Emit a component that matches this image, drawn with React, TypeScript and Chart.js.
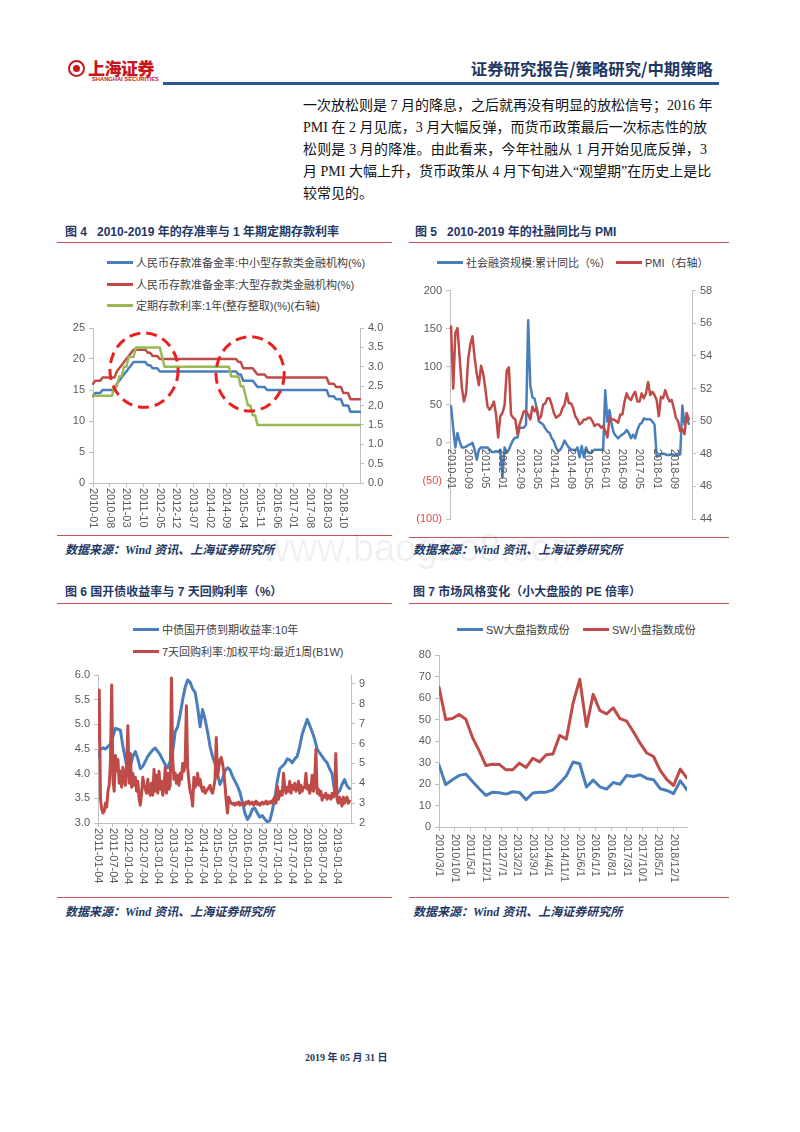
import React, { useEffect, useRef } from 'react';
import { Chart, registerables } from 'chart.js';

Chart.register(...registerables);
Chart.defaults.font.family = '"Liberation Sans", Arial, sans-serif';
Chart.defaults.font.size = 11;
Chart.defaults.color = '#595959';

const BLUE = '#4A7EBB';
const RED = '#BE4B48';
const GREEN = '#98B954';
const AXIS = '#BFBFBF';
const TICK = '#595959';
const NEG_RED = '#E0474C';
const NAVY = '#1F3864';
const CJK = '"Noto Sans CJK SC", sans-serif';
const LATIN_CJK = '"Liberation Sans", "Noto Sans CJK SC", sans-serif';
const SERIF_CJK = '"Liberation Serif", "Noto Sans CJK SC", serif';

function monthRange(start: string, end: string): string[] {
  const [sy, sm] = start.split('-').map(Number);
  const [ey, em] = end.split('-').map(Number);
  const out: string[] = [];
  let y = sy, m = sm;
  while (y < ey || (y === ey && m <= em)) {
    out.push(`${y}-${String(m).padStart(2, '0')}`);
    m++; if (m > 12) { m = 1; y++; }
  }
  return out;
}

// ---------------- Figure 4 ----------------
const fig4Months = monthRange('2010-01', '2019-05');
const fig4TickLabels = ['2010-01', '2010-08', '2011-03', '2011-10', '2012-05', '2012-12', '2013-07', '2014-02', '2014-09', '2015-04', '2015-11', '2016-06', '2017-01', '2017-08', '2018-03', '2018-10'];
const fig4RrrSmall = [
  14, 14.5, 14.5, 14.5, 15, 15, 15, 15, 15, 15, 16, 16.5,
  17, 17.5, 18, 18.5, 19, 19.5, 19.5, 19.5, 19.5, 19.5, 19.5, 19,
  19, 18.5, 18.5, 18.5, 18, 18, 18, 18, 18, 18, 18, 18,
  18, 18, 18, 18, 18, 18, 18, 18, 18, 18, 18, 18,
  18, 18, 18, 18, 18, 18, 18, 18, 18, 18, 18, 18,
  18, 17.5, 17.5, 16.5, 16.5, 16.5, 16.5, 16.5, 16, 15.5, 15.5, 15.5,
  15.5, 15, 15, 15, 15, 15, 15, 15, 15, 15, 15, 15,
  15, 15, 15, 15, 15, 15, 15, 15, 15, 15, 15, 15,
  15, 15, 15, 14, 14, 14, 13.5, 13.5, 13.5, 12.5, 12.5, 12.5,
  11.5, 11.5, 11.5, 11.5, 11.5,
];
const fig4RrrLarge = [
  16, 16.5, 16.5, 16.5, 17, 17, 17, 17, 17, 17, 18, 18.5,
  19, 19.5, 20, 20.5, 21, 21.5, 21.5, 21.5, 21.5, 21.5, 21.5, 21,
  21, 20.5, 20.5, 20.5, 20, 20, 20, 20, 20, 20, 20, 20,
  20, 20, 20, 20, 20, 20, 20, 20, 20, 20, 20, 20,
  20, 20, 20, 20, 20, 20, 20, 20, 20, 20, 20, 20,
  20, 19.5, 19.5, 18.5, 18.5, 18.5, 18.5, 18.5, 18, 17.5, 17.5, 17.5,
  17.5, 17, 17, 17, 17, 17, 17, 17, 17, 17, 17, 17,
  17, 17, 17, 17, 17, 17, 17, 17, 17, 17, 17, 17,
  17, 17, 17, 16, 16, 16, 15.5, 15.5, 15.5, 14.5, 14.5, 14.5,
  13.5, 13.5, 13.5, 13.5, 13.5,
];
const fig4Deposit = [
  2.25, 2.25, 2.25, 2.25, 2.25, 2.25, 2.25, 2.25, 2.25, 2.5, 2.5, 2.75,
  2.75, 3, 3, 3.25, 3.25, 3.25, 3.5, 3.5, 3.5, 3.5, 3.5, 3.5,
  3.5, 3.5, 3.5, 3.5, 3.5, 3.25, 3, 3, 3, 3, 3, 3,
  3, 3, 3, 3, 3, 3, 3, 3, 3, 3, 3, 3,
  3, 3, 3, 3, 3, 3, 3, 3, 3, 3, 2.75, 2.75,
  2.75, 2.75, 2.5, 2.5, 2.25, 2, 2, 1.75, 1.75, 1.5, 1.5, 1.5,
  1.5, 1.5, 1.5, 1.5, 1.5, 1.5, 1.5, 1.5, 1.5, 1.5, 1.5, 1.5,
  1.5, 1.5, 1.5, 1.5, 1.5, 1.5, 1.5, 1.5, 1.5, 1.5, 1.5, 1.5,
  1.5, 1.5, 1.5, 1.5, 1.5, 1.5, 1.5, 1.5, 1.5, 1.5, 1.5, 1.5,
  1.5, 1.5, 1.5, 1.5, 1.5,
];
// dashed highlight ellipses (category index, left-axis value, radii in data units)
const fig4Highlights = [
  { index: 21.4, value: 18.2, rIndex: 14.3, rValue: 6.0 },
  { index: 65.9, value: 17.6, rIndex: 14.3, rValue: 6.0 },
];

// ---------------- Figure 5 ----------------
const fig5Months = monthRange('2010-01', '2019-05');
const fig5TickLabels = ['2010-01', '2010-09', '2011-05', '2012-01', '2012-09', '2013-05', '2014-01', '2014-09', '2015-05', '2016-01', '2016-09', '2017-05', '2018-01', '2018-09'];
const fig5Tsf = [
  48, 19, -6, 13, 2, -6, -6, -5, -3, -2, 0, -9,
  -22, -9, -6, -6, -6, -6, -9, -12, -12, -11, -12, -9,
  -45, -6, -13, -9, -2, 4, 7, 7, 20, 20, 20, 24,
  161, 75, 60, 58, 45, 28, 26, 24, 19, 15, 13, 6,
  2, -6, -11, -9, -4, 3, -2, -6, -9, -9, -10, -6,
  -19, -4, -19, -6, -13, -13, -11, -9, -9, -9, -9, -9,
  69, 28, 43, 24, 13, 9, 6, 9, 11, 13, 17, 13,
  6, 11, 6, 17, 24, 26, 32, 31, 31, 31, 28, 24,
  -18, -17, -15, -14, -15, -16, -16, -15, -16, -16, -16, -15,
  49, 24, 34, 25,
];
const fig5Pmi = [
  55.8, 52.0, 55.4, 55.7, 53.9, 52.1, 51.2, 51.7, 53.8, 54.7, 55.2, 53.9,
  52.9, 52.2, 53.4, 52.9, 52.0, 50.9, 50.7, 50.9, 51.2, 50.4, 49.0, 50.3,
  50.5, 51.0, 53.1, 53.3, 50.4, 50.2, 50.1, 49.2, 49.8, 50.2, 50.6, 50.6,
  50.4, 50.1, 50.9, 50.6, 50.8, 50.1, 50.3, 51.0, 51.1, 51.4, 51.4, 51.0,
  50.5, 50.2, 50.3, 50.4, 50.8, 51.0, 51.7, 51.1, 51.1, 50.8, 50.3, 50.1,
  49.8, 49.9, 50.1, 50.1, 50.2, 50.2, 50.0, 49.7, 49.8, 49.8, 49.6, 49.7,
  49.4, 49.0, 50.2, 50.1, 50.1, 50.0, 49.9, 50.4, 50.4, 51.2, 51.7, 51.4,
  51.3, 51.6, 51.8, 51.2, 51.2, 51.7, 51.4, 51.7, 52.4, 51.6, 51.8, 51.6,
  51.3, 50.3, 51.5, 51.4, 51.9, 51.5, 51.2, 51.3, 50.8, 50.2, 50.0, 49.4,
  49.5, 49.2, 50.5, 50.1,
];

// ---------------- Figure 6 ----------------
const fig6TickLabels = ['2011-01-04', '2011-07-04', '2012-01-04', '2012-07-04', '2013-01-04', '2013-07-04', '2014-01-04', '2014-07-04', '2015-01-04', '2015-07-04', '2016-01-04', '2016-07-04', '2017-01-04', '2017-07-04', '2018-01-04', '2018-07-04', '2019-01-04'];
const fig6RightTicks = [2, 3, 4, 5, 6, 7, 8, 9];
const fig6AxisEndMonth = 101.6; // months after 2011-01-04
// 中债国开债到期收益率:10年, monthly from 2011-01
const fig6Cdb10y = [
  4.35, 4.5, 4.52, 4.5, 4.55, 4.6, 4.75, 4.92, 4.9, 4.88, 4.55, 4.3,
  4.0, 4.15, 4.35, 4.45, 4.3, 4.1, 4.15, 4.25, 4.35, 4.42, 4.48, 4.52,
  4.45, 4.38, 4.28, 4.18, 4.12, 4.25, 4.45, 4.85, 4.95, 5.2, 5.5, 5.75,
  5.9, 5.85, 5.72, 5.65, 5.35, 4.95, 5.3, 5.1, 4.85, 4.55, 4.35, 4.2,
  3.98, 3.78, 3.9, 4.05, 4.12, 4.08, 3.95, 3.85, 3.75, 3.62, 3.42, 3.2,
  3.07, 3.15, 3.28, 3.3, 3.2, 3.12, 3.15, 3.08, 3.02, 3.05, 3.25, 3.5,
  3.85, 4.1, 4.15, 4.2, 4.3, 4.28, 4.22, 4.3, 4.35, 4.55, 4.8, 4.95,
  5.1, 4.98, 4.85, 4.7, 4.5, 4.42, 4.35, 4.28, 4.22, 4.1, 4.0, 3.65,
  3.6, 3.65, 3.78, 3.88, 3.75, 3.7,
];
// 7天回购利率:加权平均:最近1周(B1W), half-monthly from 2011-01
const fig6Repo7d = [
  6.2, 8.7, 3.2, 2.7, 2.5, 2.6, 3.0, 2.8, 3.6, 3.9,
  5.1, 8.95, 4.2, 3.6, 5.4, 4.6, 5.2, 4.0, 4.6, 3.8,
  4.8, 4.3, 3.9, 4.9, 6.9, 4.0, 5.5, 3.8, 4.5, 3.9,
  4.3, 3.6, 4.1, 3.2, 2.9, 3.5, 4.3, 3.9, 3.7, 3.5,
  4.2, 3.6, 3.4, 4.0, 3.4, 4.7, 3.6, 4.4, 3.5, 4.6,
  3.7, 4.1, 3.4, 3.8, 4.8, 3.5, 4.5, 3.7, 3.9, 9.3,
  5.2, 4.2, 4.5, 4.0, 4.4, 3.9, 4.5, 4.2, 5.0, 4.6,
  5.0, 7.9, 4.8, 4.1, 3.6, 3.4, 2.85, 4.3, 3.8, 4.0,
  4.5, 3.9, 4.2, 3.8, 3.6, 3.8, 3.5, 3.6, 3.7, 3.8,
  3.9, 3.6, 3.5, 3.8, 4.2, 6.3, 4.3, 4.8, 5.2, 5.3,
  5.0, 4.6, 3.9, 3.1, 2.5, 3.3, 3.1, 3.0, 2.95, 3.0,
  2.9, 3.0, 2.95, 3.05, 2.9, 3.0, 2.95, 3.0, 2.9, 3.05,
  3.0, 3.1, 2.95, 3.0, 3.05, 2.9, 3.0, 3.1, 2.95, 3.0,
  2.9, 3.0, 3.05, 2.95, 3.0, 3.1, 2.95, 3.05, 3.0, 3.1,
  3.0, 3.2, 3.3, 3.0, 3.85, 3.2, 3.6, 3.4, 3.4, 4.5,
  3.8, 3.5, 3.8, 3.6, 4.1, 3.5, 3.9, 3.7, 4.0, 3.6,
  3.7, 4.1, 3.5, 3.9, 3.6, 3.8, 3.8, 4.5, 3.7, 3.9,
  3.5, 3.7, 4.4, 3.6, 4.0, 5.7, 3.5, 3.7, 3.4, 3.6,
  3.15, 3.4, 3.3, 3.5, 3.2, 3.4, 3.3, 3.2, 3.5, 3.3,
  3.4, 5.5, 3.2, 3.0, 3.3, 3.1, 2.85, 3.3, 3.0, 3.2,
  3.3, 3.0, 3.1,
];

// ---------------- Figure 7 ----------------
const fig7Dates = ['2010/3', '2010/6', '2010/9', '2010/12', '2011/3', '2011/6', '2011/9', '2011/12', '2012/3', '2012/6', '2012/9', '2012/12', '2013/3', '2013/6', '2013/9', '2013/12', '2014/3', '2014/6', '2014/9', '2014/12', '2015/3', '2015/6', '2015/9', '2015/12', '2016/3', '2016/6', '2016/9', '2016/12', '2017/3', '2017/6', '2017/9', '2017/12', '2018/3', '2018/6', '2018/9', '2018/12', '2019/3', '2019/6'];
const fig7TickLabels = ['2010/3/1', '2010/10/1', '2011/5/1', '2011/12/1', '2012/7/1', '2013/2/1', '2013/9/1', '2014/4/1', '2014/11/1', '2015/6/1', '2016/1/1', '2016/8/1', '2017/3/1', '2017/10/1', '2018/5/1', '2018/12/1'];
const fig7LargeCap = [28.9, 19.7, 22, 24, 24.6, 21.2, 17.8, 14.7, 16.2, 15.9, 15.3, 16.4, 16.1, 12.7, 15.8, 16.2, 16.2, 17.3, 20.4, 23.8, 30.2, 29.4, 18.6, 21.8, 18.7, 17.6, 20.7, 19.8, 24, 23.5, 24.3, 22.6, 22, 17.8, 17, 15.5, 21.5, 17.3];
const fig7SmallCap = [65, 50, 50.5, 52.3, 50.1, 41.6, 35.4, 28.6, 29.2, 29.1, 26.6, 26.6, 29.7, 27.7, 32, 30.3, 33.6, 33.9, 42.6, 40.9, 57.6, 68.7, 46.7, 61.7, 54.2, 52.6, 55.4, 50.4, 49.2, 44.3, 39, 34.4, 32.8, 26.3, 22, 19.3, 26.9, 22.7];

// ---------------- helpers ----------------
const fig6Month = (label: string) => { const [y, m] = label.split('-').map(Number); return (y - 2011) * 12 + (m - 1); };
const fig7Month = (label: string) => { const [y, m] = label.split('/').map(Number); return (y - 2010) * 12 + (m - 3); };

type TickItem = { label: string; value: number };

function rotTicksPlugin(items: TickItem[], offset: number, zeroAxis?: { scale: string; value: number }) {
  return {
    id: 'rotTicks',
    afterDraw(chart: any) {
      const { ctx } = chart;
      const xs = chart.scales.x;
      const base = zeroAxis ? chart.scales[zeroAxis.scale].getPixelForValue(zeroAxis.value) : chart.chartArea.bottom;
      ctx.save();
      ctx.font = '11px "Liberation Sans", Arial, sans-serif';
      ctx.fillStyle = TICK;
      ctx.textAlign = 'left';
      ctx.textBaseline = 'middle';
      for (const it of items) {
        const x = xs.getPixelForValue(it.value);
        ctx.save();
        ctx.translate(x, base + offset);
        ctx.rotate(Math.PI / 2);
        ctx.fillText(it.label, 0, 0);
        ctx.restore();
      }
      ctx.restore();
    },
  };
}

function ellipsePlugin(items: typeof fig4Highlights) {
  return {
    id: 'ellipses',
    afterDatasetsDraw(chart: any) {
      const { ctx } = chart;
      const xs = chart.scales.x, ys = chart.scales.y;
      ctx.save();
      ctx.strokeStyle = '#E8201E';
      ctx.lineWidth = 3;
      ctx.setLineDash([11, 6]);
      for (const e of items) {
        const cx = xs.getPixelForValue(e.index);
        const cy = ys.getPixelForValue(e.value);
        const rx = Math.abs(xs.getPixelForValue(e.index + e.rIndex) - cx);
        const ry = Math.abs(ys.getPixelForValue(e.value + e.rValue) - cy);
        ctx.beginPath();
        ctx.ellipse(cx, cy, rx, ry, 0, 0, Math.PI * 2);
        ctx.stroke();
      }
      ctx.restore();
    },
  };
}

function baseOptions(top: number, right: number, bottom: number) {
  return {
    responsive: false,
    animation: false,
    devicePixelRatio: 1,
    layout: { padding: { top, right, bottom, left: 0 } },
    plugins: { legend: { display: false }, tooltip: { enabled: false } },
    elements: { line: { borderJoinStyle: 'round', borderCapStyle: 'round' }, point: { radius: 0 } },
  };
}

function sideAxis(position: 'left' | 'right', min: number, max: number, step: number, width: number, fmt: (v: number) => string, extra: any = {}) {
  return {
    type: 'linear',
    position,
    min,
    max,
    border: { display: true, color: AXIS },
    grid: { drawOnChartArea: false, drawTicks: true, tickLength: 4, color: AXIS },
    ticks: { stepSize: step, padding: 4, color: TICK, font: { size: 11 }, callback: (v: any) => fmt(Number(v)) },
    afterFit: (s: any) => { s.width = width; },
    ...extra,
  };
}

function categoryX(keep: number[], height: number, offset: boolean, showLine: boolean) {
  return {
    type: 'category',
    offset,
    border: { display: showLine, color: AXIS },
    grid: { display: showLine, drawOnChartArea: false, drawTicks: true, tickLength: 4, color: AXIS },
    ticks: { display: false, autoSkip: false },
    afterBuildTicks: (s: any) => { s.ticks = s.ticks.filter((t: any) => keep.includes(t.value)); },
    afterFit: (s: any) => { s.height = height; },
  };
}

function linearX(min: number, max: number, keep: number[], height: number) {
  return {
    type: 'linear',
    min,
    max,
    border: { display: true, color: AXIS },
    grid: { drawOnChartArea: false, drawTicks: true, tickLength: 4, color: AXIS },
    ticks: { display: false },
    afterBuildTicks: (s: any) => { s.ticks = keep.map((v) => ({ value: v })); },
    afterFit: (s: any) => { s.height = height; },
  };
}

const lineDs = (extra: any) => ({ pointRadius: 0, tension: 0, fill: false, borderWidth: 2.5, ...extra });

function fig4Config(): any {
  const items = fig4TickLabels.map((l) => ({ label: l, value: fig4Months.indexOf(l) }));
  return {
    type: 'line',
    data: {
      labels: fig4Months,
      datasets: [
        lineDs({ label: '人民币存款准备金率:中小型存款类金融机构(%)', data: fig4RrrSmall, borderColor: BLUE, yAxisID: 'y', order: 2 }),
        lineDs({ label: '人民币存款准备金率:大型存款类金融机构(%)', data: fig4RrrLarge, borderColor: RED, yAxisID: 'y', order: 1 }),
        lineDs({ label: '定期存款利率:1年(整存整取)(%)(右轴)', data: fig4Deposit, borderColor: GREEN, yAxisID: 'y1', order: 0 }),
      ],
    },
    options: {
      ...baseOptions(13, 0, 0),
      scales: {
        x: categoryX(items.map((i) => i.value), 52, false, true),
        y: sideAxis('left', 0, 25, 5, 38, (v) => String(v)),
        y1: sideAxis('right', 0, 4, 0.5, 25, (v) => v.toFixed(1)),
      },
    },
    plugins: [rotTicksPlugin(items, 5), ellipsePlugin(fig4Highlights)],
  };
}

function fig5Config(): any {
  const items = fig5TickLabels.map((l) => ({ label: l, value: fig5Months.indexOf(l) }));
  return {
    type: 'line',
    data: {
      labels: fig5Months,
      datasets: [
        lineDs({ label: '社会融资规模:累计同比（%）', data: fig5Tsf, borderColor: BLUE, yAxisID: 'y', order: 1 }),
        lineDs({ label: 'PMI（右轴）', data: fig5Pmi, borderColor: RED, yAxisID: 'y1', order: 0 }),
      ],
    },
    options: {
      ...baseOptions(7, 0, 0),
      scales: {
        x: categoryX([], 16, true, false),
        y: sideAxis('left', -100, 200, 50, 45, (v) => (v < 0 ? `(${-v})` : String(v)), {
          ticks: { stepSize: 50, padding: 4, font: { size: 11 }, color: (c: any) => (c.tick && c.tick.value < 0 ? NEG_RED : TICK), callback: (v: any) => (Number(v) < 0 ? `(${-Number(v)})` : String(v)) },
        }),
        y1: sideAxis('right', 44, 58, 2, 43, (v) => String(v)),
      },
    },
    plugins: [rotTicksPlugin(items, 6, { scale: 'y', value: 0 })],
  };
}

function fig6Config(): any {
  const items = fig6TickLabels.map((l) => ({ label: l, value: fig6Month(l) }));
  return {
    type: 'line',
    data: {
      datasets: [
        lineDs({ label: '中债国开债到期收益率:10年', data: fig6Cdb10y.map((v, i) => ({ x: i, y: v })), borderColor: BLUE, yAxisID: 'y', order: 1, borderWidth: 3 }),
        lineDs({ label: '7天回购利率:加权平均:最近1周(B1W)', data: fig6Repo7d.map((v, i) => ({ x: i / 2, y: v })), borderColor: RED, yAxisID: 'y1', order: 0, borderWidth: 3 }),
      ],
    },
    options: {
      ...baseOptions(15, 0, 0),
      scales: {
        x: linearX(0, fig6AxisEndMonth, items.map((i) => i.value), 72),
        y: sideAxis('left', 3, 6, 0.5, 43, (v) => v.toFixed(1)),
        y1: sideAxis('right', 2, 9.45, 1, 34, (v) => String(v), {
          afterBuildTicks: (s: any) => { s.ticks = fig6RightTicks.map((v) => ({ value: v })); },
        }),
      },
    },
    plugins: [rotTicksPlugin(items, 5)],
  };
}

function fig7Config(): any {
  const items = fig7TickLabels.map((l) => ({ label: l, value: fig7Month(l) }));
  const xs = fig7Dates.map(fig7Month);
  return {
    type: 'line',
    data: {
      datasets: [
        lineDs({ label: 'SW大盘指数成份', data: fig7LargeCap.map((v, i) => ({ x: xs[i], y: v })), borderColor: BLUE, order: 1, borderWidth: 3 }),
        lineDs({ label: 'SW小盘指数成份', data: fig7SmallCap.map((v, i) => ({ x: xs[i], y: v })), borderColor: RED, order: 0, borderWidth: 3 }),
      ],
    },
    options: {
      ...baseOptions(15, 48, 0),
      scales: {
        x: linearX(0, xs[xs.length - 1], items.map((i) => i.value), 68),
        y: sideAxis('left', 0, 80, 10, 34, (v) => String(v)),
      },
    },
    plugins: [rotTicksPlugin(items, 7)],
  };
}

function ChartCanvas({ left, top, width, height, make }: { left: number; top: number; width: number; height: number; make: () => any }) {
  const ref = useRef<HTMLCanvasElement>(null);
  useEffect(() => {
    const chart = new Chart(ref.current as HTMLCanvasElement, make());
    return () => chart.destroy();
  }, []);
  return <canvas ref={ref} width={width} height={height} style={{ position: 'absolute', left, top, width, height }} />;
}

function Txt({ x, y, size, children, style = {} }: { x: number; y: number; size: number; children: React.ReactNode; style?: React.CSSProperties }) {
  return (
    <div style={{ position: 'absolute', left: x, top: y - size * 0.6, fontSize: size, lineHeight: `${size * 1.2}px`, whiteSpace: 'nowrap', ...style }}>
      {children}
    </div>
  );
}

function LegendItem({ x, y, color, text }: { x: number; y: number; color: string; text: string }) {
  return (
    <div style={{ position: 'absolute', left: x, top: y - 8, height: 16, display: 'flex', alignItems: 'center', whiteSpace: 'nowrap', fontSize: 11, color: '#404040', fontFamily: LATIN_CJK }}>
      <span style={{ display: 'inline-block', width: 26, height: 3, background: color, marginRight: 3 }} />
      {text}
    </div>
  );
}

function HLine({ x1, x2, y, color, h = 1 }: { x1: number; x2: number; y: number; color: string; h?: number }) {
  return <div style={{ position: 'absolute', left: x1, top: y, width: x2 - x1, height: h, background: color }} />;
}

const bodyLines = [
  '一次放松则是 7 月的降息，之后就再没有明显的放松信号；2016 年',
  'PMI 在 2 月见底，3 月大幅反弹，而货币政策最后一次标志性的放',
  '松则是 3 月的降准。由此看来，今年社融从 1 月开始见底反弹，3',
  '月 PMI 大幅上升，货币政策从 4 月下旬进入“观望期”在历史上是比',
  '较常见的。',
];

export default function App() {
  const titleStyle: React.CSSProperties = { fontFamily: LATIN_CJK, fontWeight: 700, color: NAVY };
  const srcStyle: React.CSSProperties = { fontFamily: SERIF_CJK, fontWeight: 700, fontStyle: 'italic', color: NAVY };
  return (
    <div style={{ position: 'absolute', left: 0, top: 0, width: 800, height: 1132, background: '#fff', overflow: 'hidden', fontFamily: CJK }}>
      {/* watermark */}
      <div style={{ position: 'absolute', left: 262, top: 526, fontSize: 38, fontFamily: '"Liberation Sans", Arial, sans-serif', color: 'rgba(0,0,0,0.06)', whiteSpace: 'nowrap', lineHeight: '44px' }}>www.baogao8.com</div>

      {/* header */}
      <div style={{ position: 'absolute', left: 68, top: 60, width: 17, height: 17, borderRadius: '50%', border: '2.5px solid #C8161D', boxSizing: 'border-box' }} />
      <div style={{ position: 'absolute', left: 73, top: 65, width: 7, height: 7, borderRadius: '50%', background: '#C8161D' }} />
      <Txt x={88} y={68} size={17} style={{ fontWeight: 900, color: '#C8161D', fontFamily: CJK, letterSpacing: -0.5 }}>上海证券</Txt>
      <div style={{ position: 'absolute', left: 92, top: 77, fontSize: 8, lineHeight: '8px', fontWeight: 700, color: '#C8161D', fontFamily: '"Liberation Sans", Arial, sans-serif', transform: 'scale(0.72)', transformOrigin: 'left top', whiteSpace: 'nowrap' }}>SHANGHAI SECURITIES</div>
      <div style={{ position: 'absolute', right: 87, top: 57, fontSize: 16.4, lineHeight: '22px', fontWeight: 700, color: NAVY, fontFamily: CJK, whiteSpace: 'nowrap' }}>证券研究报告/策略研究/中期策略</div>
      <HLine x1={163} x2={719} y={82} color="#2F5597" h={3} />

      {/* body text */}
      {bodyLines.map((t, i) => (
        <div key={i} style={{ position: 'absolute', left: 303, top: 96 + i * 22, width: 404, fontSize: 14, lineHeight: '20px', fontFamily: SERIF_CJK, color: '#111', textAlign: i < 4 ? 'justify' : 'left', textAlignLast: i < 4 ? 'justify' : 'left', whiteSpace: 'nowrap' } as React.CSSProperties}>{t}</div>
      ))}

      {/* figure titles */}
      <Txt x={65} y={232} size={12} style={titleStyle}>图 4&nbsp;&nbsp;&nbsp;2010-2019 年的存准率与 1 年期定期存款利率</Txt>
      <HLine x1={57} x2={392} y={242} color="#C0504D" />
      <Txt x={415} y={232} size={12} style={titleStyle}>图 5&nbsp;&nbsp;&nbsp;2010-2019 年的社融同比与 PMI</Txt>
      <HLine x1={409} x2={729} y={242} color="#C0504D" />

      {/* fig 4 legend */}
      <LegendItem x={107} y={262} color={BLUE} text="人民币存款准备金率:中小型存款类金融机构(%)" />
      <LegendItem x={107} y={284} color={RED} text="人民币存款准备金率:大型存款类金融机构(%)" />
      <LegendItem x={107} y={305} color={GREEN} text="定期存款利率:1年(整存整取)(%)(右轴)" />
      {/* fig 5 legend */}
      <LegendItem x={437} y={262} color={BLUE} text="社会融资规模:累计同比（%）" />
      <LegendItem x={616} y={262} color={RED} text="PMI（右轴）" />

      <ChartCanvas left={55} top={315} width={330} height={220} make={fig4Config} />
      <ChartCanvas left={405} top={280} width={330} height={255} make={fig5Config} />

      <HLine x1={57} x2={392} y={535} color="#C0504D" />
      <HLine x1={409} x2={729} y={537} color="#C0504D" />
      <Txt x={65} y={550} size={12} style={srcStyle}>数据来源：Wind 资讯、上海证券研究所</Txt>
      <Txt x={413} y={550} size={12} style={srcStyle}>数据来源：Wind 资讯、上海证券研究所</Txt>

      {/* figures 6 & 7 */}
      <Txt x={65} y={592} size={12} style={titleStyle}>图 6 国开债收益率与 7 天回购利率（%）</Txt>
      <HLine x1={57} x2={392} y={603} color="#C0504D" />
      <Txt x={413} y={592} size={12} style={titleStyle}>图 7 市场风格变化（小大盘股的 PE 倍率）</Txt>
      <HLine x1={409} x2={729} y={603} color="#C0504D" />

      <LegendItem x={133} y={629} color={BLUE} text="中债国开债到期收益率:10年" />
      <LegendItem x={133} y={651} color={RED} text="7天回购利率:加权平均:最近1周(B1W)" />
      <LegendItem x={457} y={629} color={BLUE} text="SW大盘指数成份" />
      <LegendItem x={583} y={629} color={RED} text="SW小盘指数成份" />

      <ChartCanvas left={55} top={660} width={330} height={235} make={fig6Config} />
      <ChartCanvas left={405} top={640} width={330} height={255} make={fig7Config} />

      <HLine x1={57} x2={392} y={897} color="#C0504D" />
      <HLine x1={409} x2={729} y={897} color="#C0504D" />
      <Txt x={65} y={912} size={12} style={srcStyle}>数据来源：Wind 资讯、上海证券研究所</Txt>
      <Txt x={413} y={912} size={12} style={srcStyle}>数据来源：Wind 资讯、上海证券研究所</Txt>

      {/* footer */}
      <Txt x={305} y={1058} size={10} style={{ fontFamily: SERIF_CJK, fontWeight: 700, color: NAVY }}>2019 年 05 月 31 日</Txt>
    </div>
  );
}
